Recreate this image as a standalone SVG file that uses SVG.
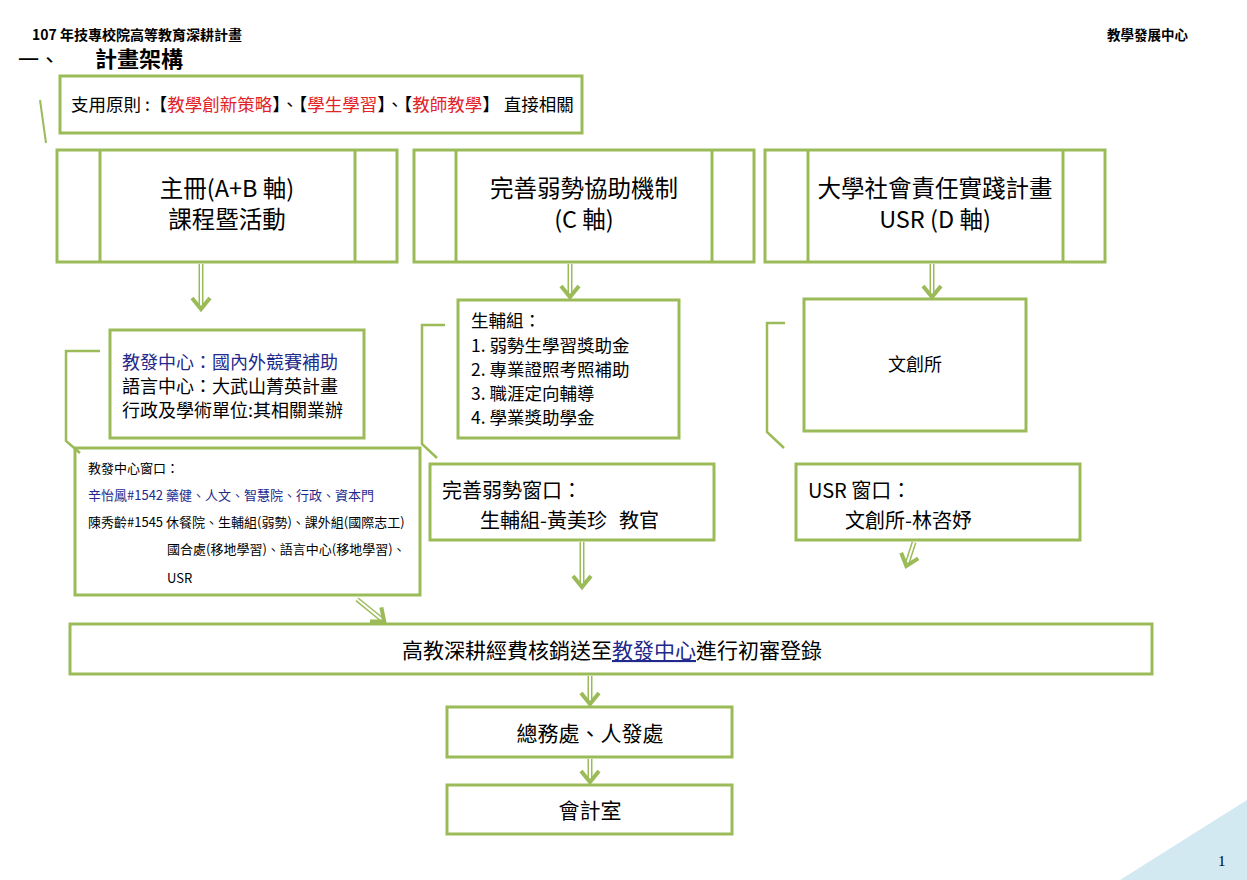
<svg xmlns="http://www.w3.org/2000/svg" xmlns:xlink="http://www.w3.org/1999/xlink" width="1247" height="880" viewBox="0 0 1247 880">
<style>
text{font-family:"Noto Sans CJK TC","Noto Sans CJK SC",sans-serif;fill:#000;}
.box{fill:#fff;stroke:#9BBB59;stroke-width:3;}
.ln{fill:none;stroke:#9BBB59;stroke-width:3;}
.so{stroke:#9BBB59;stroke-width:5;fill:none;}
.si{stroke:#fff;stroke-width:2;fill:none;}
.hd{fill:none;stroke:#9BBB59;stroke-width:4;stroke-linejoin:miter;}
.red{fill:#E2232A;}
.blue{fill:#1F2A8C;}
.t24{font-size:23.5px;}
.t18{font-size:18px;}
.t17{font-size:17.5px;}
.t13{font-size:13px;}
.t21{font-size:21px;}
.t20{font-size:20px;}
.c{text-anchor:middle;}
</style>
<defs>
<polyline id="head" class="hd" points="-9,-12 0,-1 9,-12"/>
</defs>
<rect width="1247" height="880" fill="#fff"/>
<polygon points="1120,880 1247,800 1247,880" fill="#D2E9F2"/>
<text x="1218" y="866" style="font-family:'Liberation Serif',serif;font-size:15px">1</text>

<g id="header">
<text x="32" y="40" style="font-size:14px;font-weight:bold">107 年技專校院高等教育深耕計畫</text>
<text x="18" y="67" style="font-size:21px">一、</text>
<text x="95" y="67" style="font-size:22px;font-weight:bold">計畫架構</text>
<text x="1107" y="40" style="font-size:13.5px;font-weight:bold">教學發展中心</text>
</g>

<g id="principle">
<rect class="box" x="60" y="76" width="522" height="57"/>
<line class="ln" x1="40" y1="100" x2="46" y2="143" style="stroke-width:2"/>
<text x="71" y="111" style="font-size:17.5px">支用原則 :【<tspan class="red">教學創新策略</tspan>】、【<tspan class="red">學生學習</tspan>】、【<tspan class="red">教師教學</tspan>】 直接相關</text>
</g>

<g id="axisAB">
<rect class="box" x="57" y="150" width="340" height="112"/>
<line class="ln" x1="100" y1="150" x2="100" y2="262"/>
<line class="ln" x1="355" y1="150" x2="355" y2="262"/>
<text class="t24 c" x="227" y="197">主冊(A+B 軸)</text>
<text class="t24 c" x="227" y="228">課程暨活動</text>
</g>

<g id="axisC">
<rect class="box" x="414" y="150" width="340" height="112"/>
<line class="ln" x1="456" y1="150" x2="456" y2="262"/>
<line class="ln" x1="712" y1="150" x2="712" y2="262"/>
<text class="t24 c" x="584" y="197">完善弱勢協助機制</text>
<text class="t24 c" x="584" y="228">(C 軸)</text>
</g>

<g id="axisD">
<rect class="box" x="765" y="150" width="340" height="112"/>
<line class="ln" x1="808" y1="150" x2="808" y2="262"/>
<line class="ln" x1="1063" y1="150" x2="1063" y2="262"/>
<text class="t24 c" x="935" y="197">大學社會責任實踐計畫</text>
<text class="t24 c" x="935" y="228">USR (D 軸)</text>
</g>

<g id="unitsAB">
<rect class="box" x="110" y="330" width="254" height="108"/>
<text class="t18 blue" x="122" y="369">教發中心：國內外競賽補助</text>
<text class="t18" x="122" y="393">語言中心：大武山菁英計畫</text>
<text class="t18" x="122" y="417">行政及學術單位:其相關業辦</text>
</g>

<g id="unitsC">
<rect class="box" x="458" y="300" width="221" height="138"/>
<text class="t17" x="471" y="327">生輔組：</text>
<text class="t17" x="471" y="352">1. 弱勢生學習獎助金</text>
<text class="t17" x="471" y="376">2. 專業證照考照補助</text>
<text class="t17" x="471" y="400">3. 職涯定向輔導</text>
<text class="t17" x="471" y="424">4. 學業獎助學金</text>
</g>

<g id="unitsD">
<rect class="box" x="804" y="299" width="222" height="132"/>
<text class="t18 c" x="915" y="371">文創所</text>
</g>

<g id="windowAB">
<rect class="box" x="75" y="448" width="345" height="147"/>
<text class="t13" x="88" y="473">教發中心窗口：</text>
<text class="t13 blue" x="88" y="500">辛怡鳳#1542 藥健、人文、智慧院、行政、資本門</text>
<text class="t13" x="88" y="527">陳秀齡#1545 休餐院、生輔組(弱勢)、課外組(國際志工)</text>
<text class="t13" x="167" y="554">國合處(移地學習)、語言中心(移地學習)、</text>
<text class="t13" x="167" y="583">USR</text>
</g>

<g id="windowC">
<rect class="box" x="430" y="464" width="284" height="76"/>
<text class="t20" x="442" y="498">完善弱勢窗口：</text>
<text class="t20" x="480" y="528">生輔組-黃美珍<tspan dx="12">教官</tspan></text>
</g>

<g id="windowD">
<rect class="box" x="796" y="464" width="284" height="76"/>
<text class="t20" x="808" y="498">USR 窗口：</text>
<text class="t20" x="845" y="528">文創所-林咨妤</text>
</g>

<g id="register">
<rect class="box" x="70" y="624" width="1082" height="50"/>
<text class="t21 c" x="612" y="658">高教深耕經費核銷送至<tspan class="blue" text-decoration="underline">教發中心</tspan>進行初審登錄</text>
</g>

<g id="general">
<rect class="box" x="447" y="707" width="285" height="50"/>
<text class="t21 c" x="590" y="741">總務處、人發處</text>
</g>

<g id="accounting">
<rect class="box" x="447" y="785" width="285" height="49"/>
<text class="t21 c" x="590" y="818">會計室</text>
</g>

<g id="connectors">
<polyline class="ln" points="100,351 66,351 66,441 80,453" style="stroke-width:2.5"/>
<polyline class="ln" points="445,325 422,325 422,444 437,458" style="stroke-width:2.5"/>
<polyline class="ln" points="785,323 767,323 767,432 784,448" style="stroke-width:2.5"/>

<g transform="translate(201,310)"><line class="so" x1="0" y1="-46" x2="0" y2="-5"/><line class="si" x1="0" y1="-46" x2="0" y2="-5"/><use xlink:href="#head"/></g>
<g transform="translate(570,298)"><line class="so" x1="0" y1="-34" x2="0" y2="-5"/><line class="si" x1="0" y1="-34" x2="0" y2="-5"/><use xlink:href="#head"/></g>
<g transform="translate(932,298)"><line class="so" x1="0" y1="-34" x2="0" y2="-5"/><line class="si" x1="0" y1="-34" x2="0" y2="-5"/><use xlink:href="#head"/></g>
<g transform="translate(385,622) rotate(-51)"><line class="so" x1="0" y1="-36" x2="0" y2="-5"/><line class="si" x1="0" y1="-36" x2="0" y2="-5"/><use xlink:href="#head"/></g>
<g transform="translate(582,588)"><line class="so" x1="0" y1="-46" x2="0" y2="-5"/><line class="si" x1="0" y1="-46" x2="0" y2="-5"/><use xlink:href="#head"/></g>
<g transform="translate(906,567) rotate(18)"><line class="so" x1="0" y1="-26" x2="0" y2="-5"/><line class="si" x1="0" y1="-26" x2="0" y2="-5"/><use xlink:href="#head"/></g>
<g transform="translate(590,705)"><line class="so" x1="0" y1="-29" x2="0" y2="-5"/><line class="si" x1="0" y1="-29" x2="0" y2="-5"/><use xlink:href="#head"/></g>
<g transform="translate(590,783)"><line class="so" x1="0" y1="-24" x2="0" y2="-5"/><line class="si" x1="0" y1="-24" x2="0" y2="-5"/><use xlink:href="#head"/></g>
</g>
</svg>
